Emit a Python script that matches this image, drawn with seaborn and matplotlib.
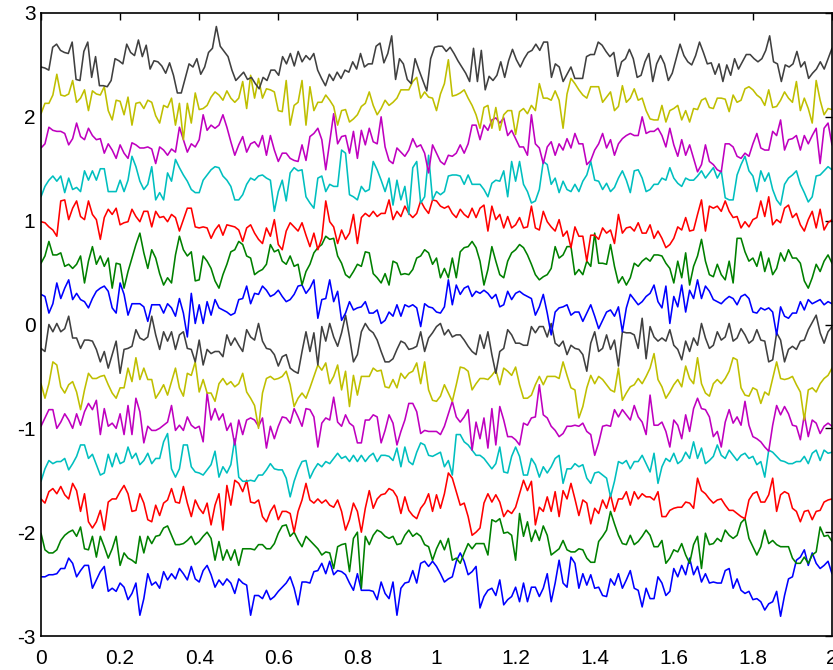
import numpy as np
import pandas as pd
import matplotlib
matplotlib.use("Agg")
import matplotlib.pyplot as plt
import seaborn as sns

# Fourteen stacked noisy traces on 0 <= t <= 2, values in hundredths.
k_top = [248,247,245,267,270,264,262,261,272,236,235,263,272,238,258,230,230,229,235,256,
         254,251,270,262,259,274,258,269,246,254,253,249,242,252,240,223,223,237,251,248,
         256,241,248,262,266,287,268,263,258,245,235,239,243,236,238,232,227,238,235,245,
         245,240,258,251,261,249,263,253,259,255,261,245,237,230,241,235,243,237,245,243,
         253,246,261,248,251,251,268,271,252,261,278,236,256,251,236,232,256,245,235,225,
         256,267,268,268,263,267,261,254,248,242,234,266,234,264,226,239,235,240,253,238,
         254,265,255,248,256,262,264,270,264,272,272,238,251,248,234,241,248,237,237,237,
         258,260,260,272,269,263,258,262,239,253,256,265,256,238,240,253,261,234,251,259,
         251,235,242,256,270,259,253,250,259,272,262,251,252,241,251,234,250,240,256,246,
         253,260,260,256,253,256,264,278,253,251,234,250,248,251,263,248,253,237,242,246,
         253,246,256,266]
y_top = [203,213,213,221,241,221,220,222,235,214,218,226,206,225,222,221,229,206,197,216,
         215,202,219,192,213,214,208,216,214,201,194,211,209,218,192,213,178,213,194,223,
         207,208,211,219,224,221,216,225,218,214,218,234,208,240,218,237,218,227,226,224,
         206,205,235,192,211,214,235,192,229,206,214,214,221,216,210,192,206,207,195,198,
         202,210,213,224,211,202,208,216,211,214,218,226,226,226,234,238,218,224,219,218,
         206,222,232,255,220,221,223,226,218,211,202,189,209,211,189,209,187,202,206,206,
         183,205,208,203,211,206,232,218,218,216,225,216,189,222,237,232,226,221,218,229,
         229,229,214,219,224,206,210,230,214,218,227,216,218,206,198,197,197,211,195,206,
         208,211,197,206,195,208,207,216,218,209,208,218,218,217,205,221,214,216,227,229,
         226,221,218,211,226,209,210,216,224,218,214,234,206,218,208,194,235,216,202,208,
         207]
m_top = [170,174,190,187,186,186,184,173,179,194,181,178,189,182,178,179,165,174,168,160,
         173,165,160,175,173,170,170,171,169,155,171,168,163,169,166,190,178,166,174,171,
         178,202,187,192,189,192,202,190,176,163,173,181,166,174,176,171,182,163,182,168,
         157,165,165,160,158,157,173,158,181,184,189,178,149,176,203,174,181,182,165,186,
         160,187,173,189,176,174,200,171,158,155,170,166,162,168,179,171,173,165,146,173,
         165,157,154,163,162,165,173,165,174,192,192,178,192,187,197,199,194,199,182,187,
         179,171,171,163,202,174,170,155,171,176,163,174,168,179,170,184,174,174,154,158,
         168,174,184,170,178,163,174,179,182,184,182,182,200,184,186,186,189,182,171,189,
         173,162,178,163,173,160,147,154,173,157,154,149,147,174,174,171,162,160,165,162,
         174,184,170,168,168,186,182,197,168,178,179,182,168,182,174,182,189,155,189,194,
         173]
c_top = [123,133,139,143,138,143,127,141,130,132,128,148,139,148,139,150,150,128,128,128,
         139,128,139,162,152,138,130,135,152,120,127,120,146,138,159,151,144,138,130,127,
         127,139,144,149,152,151,143,139,133,120,120,125,135,141,139,143,144,141,139,109,
         128,139,119,146,151,148,149,123,117,112,141,143,128,135,133,133,168,165,125,123,
         120,133,128,130,157,149,139,128,141,115,139,120,133,106,151,157,117,123,163,120,
         128,125,128,143,144,144,143,135,144,135,135,135,130,123,136,139,138,148,123,157,
         138,157,135,128,117,119,130,157,154,135,141,127,138,130,128,135,128,138,144,157,
         139,138,130,136,128,132,141,148,139,127,148,149,141,128,130,135,135,141,139,151,
         141,136,133,141,139,139,143,148,141,146,151,141,148,122,120,120,144,154,162,148,
         143,128,148,138,146,130,120,115,135,141,144,148,135,127,118,123,143,144,148,152,
         149]
r_top = [99,98,94,91,85,119,120,101,112,119,104,101,119,106,101,82,103,111,106,112,
         96,98,99,111,104,99,109,109,94,109,103,104,99,106,103,90,101,112,112,94,
         93,94,93,83,91,96,86,96,95,94,91,80,93,96,88,82,78,93,85,101,
         77,72,90,98,94,90,98,86,75,88,72,83,119,99,94,78,91,82,88,106,
         78,103,107,104,109,104,107,107,120,101,109,104,114,107,103,107,119,112,107,120,
         119,114,112,114,107,103,111,106,103,112,103,112,115,90,114,101,106,93,104,93,
         96,103,93,94,114,93,91,109,99,94,90,101,85,90,74,94,85,85,61,86,
         86,82,93,88,91,78,106,88,93,94,90,98,88,88,96,83,90,83,74,77,
         83,94,91,103,90,91,106,120,90,114,112,114,109,119,109,103,104,93,99,94,
         101,103,119,104,123,96,101,98,112,115,103,107,96,90,101,109,93,111,91,98,
         101]
g_top = [59,66,80,67,67,69,56,58,54,58,66,40,61,75,58,66,56,64,35,59,
         58,35,51,64,77,88,69,54,72,64,49,38,45,40,67,85,72,66,70,42,
         43,66,61,54,42,35,48,58,70,72,80,77,66,64,48,51,53,58,77,70,
         72,61,58,66,56,58,38,51,58,69,74,77,85,82,83,66,59,48,45,51,
         58,56,70,69,49,45,40,49,38,61,59,48,49,48,53,64,66,72,69,58,
         64,45,54,45,64,45,70,74,75,80,74,61,38,53,75,61,48,45,61,69,
         72,77,74,67,58,48,43,46,48,54,75,64,67,75,75,48,53,48,61,56,
         88,59,59,58,77,56,40,46,38,45,59,56,61,64,61,67,67,66,59,54,
         40,61,45,69,38,56,66,82,61,48,46,58,48,43,61,40,83,83,70,61,
         64,56,70,51,64,48,54,69,61,72,64,64,59,42,35,45,58,51,61,67,
         59]
b_top = [29,27,11,20,40,25,35,43,24,30,24,22,16,25,32,35,37,32,16,11,
         40,29,9,20,20,20,17,3,19,19,19,11,20,16,8,25,11,-12,30,1,
         19,1,22,9,24,16,14,12,9,11,24,25,37,20,30,29,37,33,27,29,
         33,27,22,24,29,37,38,30,35,43,6,24,25,43,22,32,4,11,22,14,
         16,17,22,11,11,14,1,4,12,8,19,8,19,17,19,16,-2,20,17,16,
         12,11,17,43,19,38,29,35,37,27,32,30,33,30,25,29,17,19,32,24,
         30,32,29,27,25,9,17,29,11,-10,12,16,17,19,9,12,12,3,11,19,
         8,-4,4,12,14,8,17,-7,16,29,24,19,22,27,30,38,22,16,37,1,
         27,17,38,12,33,25,43,25,37,32,24,22,20,24,27,25,19,27,29,25,
         12,11,16,14,16,12,-10,17,8,6,11,11,22,14,24,20,22,24,19,22,
         20]
k_low = [-23,-26,0,-7,1,-7,-4,8,-13,-13,-23,-15,-15,-16,-24,-36,-26,-42,-29,-16,
         -47,-24,-23,-21,-5,-13,-15,-12,8,-10,-24,-7,-16,-7,-24,-10,-7,-23,-24,-36,
         -15,-39,-24,-28,-26,-26,-31,-10,-20,-13,-20,-26,-5,-12,-15,1,-16,-23,-24,-29,
         -40,-31,-29,-42,-45,-47,-26,-7,-26,-8,-39,-2,-16,1,-12,-21,-8,9,-12,-36,
         -29,-7,1,-5,-8,-15,-26,-36,-36,-33,-24,-16,-18,-24,-23,-21,-7,-26,-13,-8,
         -2,1,-10,-5,-12,-10,-10,-15,-21,-26,-29,-10,-23,-7,-29,-47,-26,-23,-5,-10,
         -18,-18,-20,-20,-2,-8,-2,-2,-12,1,-18,-21,-16,-29,-20,-23,-24,-29,-45,-18,
         -7,-26,-23,-10,-24,-15,-40,-7,-8,-8,-10,-23,6,-33,-2,-12,-16,-13,-16,-5,
         -20,-24,-34,-16,-26,-13,-20,1,-13,-23,-20,-7,-15,-12,1,-16,-13,-4,-10,-18,
         -15,-5,-15,-16,-36,-34,-8,-15,-36,-24,-21,-24,-16,-15,-5,2,9,-8,-18,-7,
         -2]
y_low = [-57,-71,-57,-36,-39,-60,-66,-58,-55,-65,-82,-63,-47,-52,-52,-50,-49,-58,-66,-71,
         -61,-61,-42,-55,-32,-53,-42,-53,-53,-71,-65,-58,-68,-55,-42,-61,-69,-47,-49,-36,
         -65,-53,-66,-66,-74,-57,-52,-58,-55,-60,-57,-47,-65,-71,-78,-100,-66,-52,-50,-53,
         -52,-50,-45,-58,-79,-71,-66,-71,-61,-50,-39,-44,-37,-57,-50,-39,-63,-45,-79,-49,
         -68,-50,-50,-50,-42,-45,-44,-60,-61,-53,-61,-47,-52,-47,-45,-37,-57,-36,-63,-73,
         -74,-69,-58,-66,-74,-58,-41,-42,-45,-63,-57,-52,-52,-53,-49,-44,-58,-42,-45,-49,
         -41,-58,-71,-71,-68,-58,-50,-58,-50,-50,-50,-52,-36,-49,-61,-63,-90,-79,-61,-49,
         -57,-50,-53,-58,-63,-65,-42,-73,-66,-60,-58,-52,-57,-50,-42,-28,-53,-60,-71,-65,
         -58,-53,-60,-40,-52,-57,-32,-57,-66,-69,-57,-53,-57,-52,-45,-32,-34,-61,-68,-69,
         -61,-63,-76,-65,-68,-52,-36,-52,-53,-52,-50,-58,-65,-92,-63,-61,-65,-57,-52,-49,
         -42]
m_low = [-98,-90,-82,-82,-100,-94,-86,-92,-100,-86,-97,-84,-76,-82,-73,-106,-81,-98,-95,-100,
         -86,-106,-78,-106,-71,-84,-114,-98,-102,-102,-100,-97,-94,-78,-102,-97,-102,-89,-97,-100,
         -98,-113,-66,-92,-81,-92,-86,-102,-95,-116,-92,-106,-92,-90,-92,-98,-90,-119,-98,-110,
         -98,-89,-90,-95,-81,-89,-98,-81,-82,-89,-118,-95,-90,-92,-70,-94,-98,-87,-95,-98,
         -114,-114,-92,-92,-87,-89,-114,-102,-87,-95,-116,-103,-92,-76,-76,-84,-105,-102,-103,-103,
         -103,-106,-98,-86,-74,-89,-94,-89,-82,-121,-94,-110,-90,-119,-81,-116,-79,-92,-108,-108,
         -111,-116,-95,-97,-90,-89,-58,-87,-90,-98,-102,-108,-105,-98,-98,-97,-98,-95,-103,-106,
         -126,-114,-98,-97,-98,-82,-89,-82,-87,-92,-78,-89,-94,-106,-68,-97,-97,-94,-103,-118,
         -92,-97,-110,-87,-103,-81,-71,-81,-82,-89,-108,-103,-118,-94,-82,-95,-89,-97,-74,-97,
         -108,-110,-113,-118,-122,-97,-78,-87,-79,-86,-97,-98,-111,-87,-108,-92,-95,-105,-98,-95,
         -98]
c_low = [-151,-139,-131,-134,-132,-132,-129,-140,-134,-127,-116,-116,-129,-125,-135,-145,-143,-125,-137,-124,
         -134,-132,-118,-129,-124,-135,-131,-124,-134,-129,-129,-113,-105,-139,-147,-139,-116,-116,-137,-142,
         -143,-145,-140,-135,-122,-147,-137,-143,-135,-110,-147,-151,-151,-150,-151,-145,-145,-140,-134,-139,
         -140,-140,-148,-166,-151,-140,-132,-131,-148,-140,-134,-137,-132,-134,-129,-124,-129,-127,-132,-126,
         -132,-126,-132,-127,-124,-132,-126,-126,-127,-131,-119,-137,-118,-132,-135,-123,-114,-116,-126,-127,
         -125,-123,-137,-131,-145,-106,-106,-113,-116,-121,-126,-126,-129,-134,-139,-134,-118,-142,-143,-127,
         -118,-127,-145,-145,-129,-135,-147,-137,-143,-137,-129,-126,-153,-139,-139,-134,-137,-135,-148,-153,
         -143,-142,-145,-148,-166,-151,-132,-134,-131,-139,-132,-132,-126,-134,-142,-124,-153,-137,-129,-132,
         -124,-134,-131,-123,-129,-113,-129,-119,-134,-131,-127,-116,-126,-129,-121,-126,-131,-126,-124,-129,
         -127,-135,-132,-147,-121,-123,-127,-131,-132,-134,-134,-132,-132,-127,-134,-124,-121,-131,-121,-124,
         -123]
r_low = [-168,-172,-161,-158,-163,-156,-164,-168,-153,-160,-180,-163,-190,-196,-190,-179,-198,-171,-168,-168,
         -161,-155,-163,-180,-179,-163,-172,-188,-190,-174,-184,-172,-169,-158,-171,-172,-156,-172,-185,-169,
         -177,-182,-172,-193,-174,-163,-198,-155,-174,-150,-153,-161,-150,-171,-172,-169,-185,-190,-180,-174,
         -188,-180,-180,-182,-200,-180,-169,-153,-169,-172,-168,-172,-169,-174,-176,-169,-180,-198,-188,-172,
         -180,-200,-177,-160,-177,-168,-164,-163,-158,-160,-166,-182,-166,-179,-184,-187,-177,-172,-163,-180,
         -164,-177,-163,-143,-148,-161,-174,-172,-185,-203,-200,-196,-172,-163,-171,-164,-171,-185,-179,-182,
         -176,-163,-150,-160,-151,-193,-176,-180,-166,-180,-161,-185,-160,-168,-153,-168,-184,-169,-172,-192,
         -177,-182,-169,-177,-164,-180,-168,-168,-161,-174,-161,-168,-163,-166,-166,-169,-161,-185,-185,-179,
         -177,-176,-176,-171,-172,-177,-148,-160,-163,-168,-172,-169,-168,-174,-179,-179,-182,-185,-187,-169,
         -163,-161,-171,-171,-164,-148,-180,-164,-161,-163,-177,-180,-190,-180,-179,-188,-180,-179,-171,-169,
         -168]
g_low = [-201,-217,-220,-220,-217,-208,-203,-200,-198,-204,-195,-216,-217,-204,-224,-204,-214,-225,-216,-204,
         -232,-220,-225,-227,-230,-204,-220,-204,-211,-204,-203,-196,-194,-203,-212,-212,-211,-208,-204,-212,
         -209,-204,-200,-206,-227,-209,-227,-217,-227,-217,-232,-216,-216,-216,-217,-212,-212,-216,-216,-211,
         -201,-194,-193,-204,-200,-208,-214,-204,-208,-212,-216,-222,-219,-220,-235,-214,-212,-211,-238,-206,
         -200,-254,-204,-212,-203,-198,-200,-204,-206,-204,-212,-211,-203,-198,-204,-201,-204,-212,-214,-227,
         -216,-208,-217,-206,-227,-225,-230,-220,-211,-216,-211,-211,-211,-222,-188,-190,-187,-201,-200,-203,
         -227,-182,-204,-190,-209,-198,-208,-194,-203,-222,-219,-216,-208,-217,-219,-219,-216,-217,-225,-229,
         -229,-209,-204,-198,-180,-192,-203,-211,-212,-203,-212,-209,-204,-198,-203,-214,-214,-208,-230,-225,
         -217,-219,-211,-222,-230,-212,-204,-235,-201,-212,-211,-206,-209,-198,-203,-206,-203,-191,-187,-206,
         -214,-222,-214,-198,-211,-208,-212,-214,-214,-214,-225,-230,-230,-224,-230,-222,-219,-195,-204,-203,
         -209]
b_low = [-243,-243,-241,-241,-240,-235,-235,-225,-230,-243,-237,-232,-232,-254,-246,-238,-233,-257,-254,-257,
         -249,-253,-265,-259,-249,-280,-264,-240,-251,-248,-254,-238,-246,-240,-245,-235,-240,-246,-233,-245,
         -248,-237,-232,-241,-253,-246,-251,-245,-249,-259,-245,-249,-251,-280,-261,-261,-264,-256,-265,-262,
         -257,-253,-249,-243,-254,-270,-248,-248,-249,-238,-237,-230,-240,-228,-241,-237,-238,-241,-249,-256,
         -240,-256,-256,-256,-257,-265,-248,-259,-264,-248,-280,-254,-249,-248,-237,-249,-230,-228,-233,-228,
         -233,-240,-248,-245,-243,-228,-220,-228,-241,-238,-233,-273,-262,-256,-254,-261,-246,-270,-265,-262,
         -253,-267,-249,-267,-253,-253,-262,-254,-240,-267,-249,-227,-249,-253,-224,-230,-254,-240,-251,-241,
         -254,-253,-261,-262,-245,-251,-240,-254,-246,-237,-254,-256,-272,-254,-264,-264,-243,-249,-261,-257,
         -235,-243,-232,-241,-225,-241,-233,-248,-240,-249,-248,-249,-249,-237,-235,-254,-245,-256,-259,-257,
         -265,-264,-267,-275,-269,-267,-257,-281,-261,-245,-243,-227,-224,-217,-232,-220,-230,-235,-232,-228,
         -240]

# Traces listed bottom to top, with their line colours
trace_names = ["b_low", "g_low", "r_low", "c_low", "m_low", "y_low", "k_low",
               "b_top", "g_top", "r_top", "c_top", "m_top", "y_top", "k_top"]
trace_values = [b_low, g_low, r_low, c_low, m_low, y_low, k_low,
                b_top, g_top, r_top, c_top, m_top, y_top, k_top]
cycle = ["#0000ff", "#008000", "#ff0000", "#00bfbf", "#bf00bf", "#bfbf00", "#404040"]
palette = {name: cycle[i % len(cycle)] for i, name in enumerate(trace_names)}

x_ticks = [0, 0.2, 0.4, 0.6, 0.8, 1.0, 1.2, 1.4, 1.6, 1.8, 2.0]
x_tick_labels = ["0", "0.2", "0.4", "0.6", "0.8", "1", "1.2", "1.4", "1.6", "1.8", "2"]
y_ticks = [-3, -2, -1, 0, 1, 2, 3]
y_tick_labels = ["-3", "-2", "-1", "0", "1", "2", "3"]

frames = []
for name, vals in zip(trace_names, trace_values):
    v = np.asarray(vals, dtype=float) / 100.0
    t = np.linspace(0.0, 2.0, len(v))
    frames.append(pd.DataFrame({"t": t, "value": v, "trace": name}))
df = pd.concat(frames, ignore_index=True)

sns.set_style("white")
plt.rcParams["font.family"] = ["Liberation Sans", "DejaVu Sans"]
plt.rcParams["axes.unicode_minus"] = False

fig = plt.figure(figsize=(8.33, 6.70), dpi=100)
ax = fig.add_axes([41 / 833, 34 / 670, 791 / 833, 623 / 670])

sns.lineplot(data=df, x="t", y="value", hue="trace", hue_order=trace_names,
             palette=palette, estimator=None, sort=False, legend=False,
             linewidth=1.15, ax=ax)

ax.set_xlim(0, 2)
ax.set_ylim(-3, 3)
ax.set_xticks(x_ticks)
ax.set_xticklabels(x_tick_labels)
ax.set_yticks(y_ticks)
ax.set_yticklabels(y_tick_labels)
ax.set_xlabel("")
ax.set_ylabel("")
ax.tick_params(direction="in", length=5, width=1.0, top=True, right=True,
               labelsize=15, colors="black")
ax.tick_params(axis="x", pad=9)
ax.tick_params(axis="y", pad=4)
for side in ["left", "right", "top", "bottom"]:
    ax.spines[side].set_visible(True)
    ax.spines[side].set_color("black")
    ax.spines[side].set_linewidth(1.2)

fig.savefig("out.png", dpi=100, facecolor="white")
